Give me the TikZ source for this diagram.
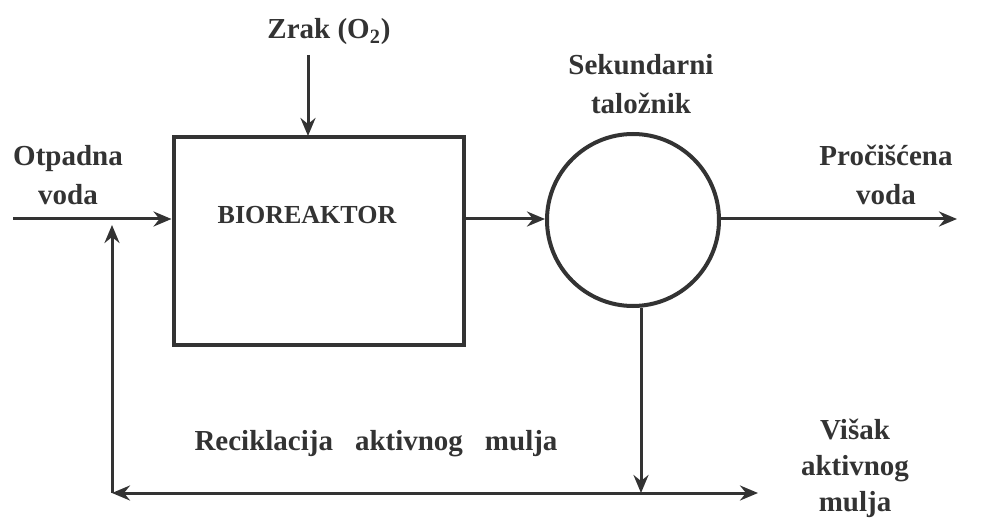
\documentclass[tikz,border=0pt]{standalone}
\usepackage{fontspec}
\setmainfont{Liberation Serif}
\usetikzlibrary{positioning,arrows.meta}
\tikzset{
  tok/.style={line width=1.5pt,draw=black!80,-{Stealth[length=9pt,width=7.5pt,inset=3pt]}},
  dvotok/.style={tok,{Stealth[length=9pt,width=7.5pt,inset=3pt]}-{Stealth[length=9pt,width=7.5pt,inset=3pt]}},
  blok/.style={draw=black!80,line width=2pt,minimum width=145pt,minimum height=104pt,inner sep=0pt},
  talozi/.style={draw=black!80,line width=2pt,circle,minimum size=86pt,inner sep=0pt},
  natpis/.style={font=\bfseries\fontsize{14.5}{19.5}\selectfont,align=center,text=black!80,inner sep=0pt}
}
\begin{document}
\begin{tikzpicture}[x=0.5pt,y=-0.5pt]
  \useasboundingbox (0,0) rectangle (987,524);
  % blokovi
  \node[blok] (reaktor) at (318.5,241.5) {};
  \node[natpis,font=\bfseries\fontsize{13}{16}\selectfont] (naziv) at (307,215) {BIOREAKTOR};
  \node[talozi] (taloznik) at (633,220) {};
  % natpisi
  \node[natpis] (zrak) at (329,32) {Zrak (O\textsubscript{2})};
  \node[natpis] (sek) at (641,84) {Sekundarni\\taložnik};
  \node[natpis] (otpadna) at (68,175) {Otpadna\\voda};
  \node[natpis] (procisc) at (886,175) {Pročišćena\\voda};
  \node[natpis] (recikl) at (376,444) {Reciklacija\hspace{11pt}aktivnog\hspace{11pt}mulja};
  \node[natpis,font=\bfseries\fontsize{14.5}{18}\selectfont] (visak) at (855,468) {Višak\\aktivnog\\mulja};
  % tokovi
  \coordinate (ulaz) at (13,219);
  \coordinate (izlaz) at (957,219);
  \coordinate (kut) at (112,493);
  \coordinate (kraj) at (758,493);
  \coordinate (dno) at (641,493);
  \draw[tok] (ulaz) -- (ulaz -| reaktor.west);
  \draw[tok] (308,55) -- (308,136);
  \draw[tok] (reaktor.east |- ulaz) -- (ulaz -| taloznik.west);
  \draw[tok] (ulaz -| taloznik.east) -- (izlaz);
  \draw[tok] (taloznik.south -| dno) -- (dno);
  \draw[dvotok] (kut) -- (kraj);
  \draw[tok,shorten >=3pt] (kut) -- (kut |- ulaz);
\end{tikzpicture}
\end{document}
